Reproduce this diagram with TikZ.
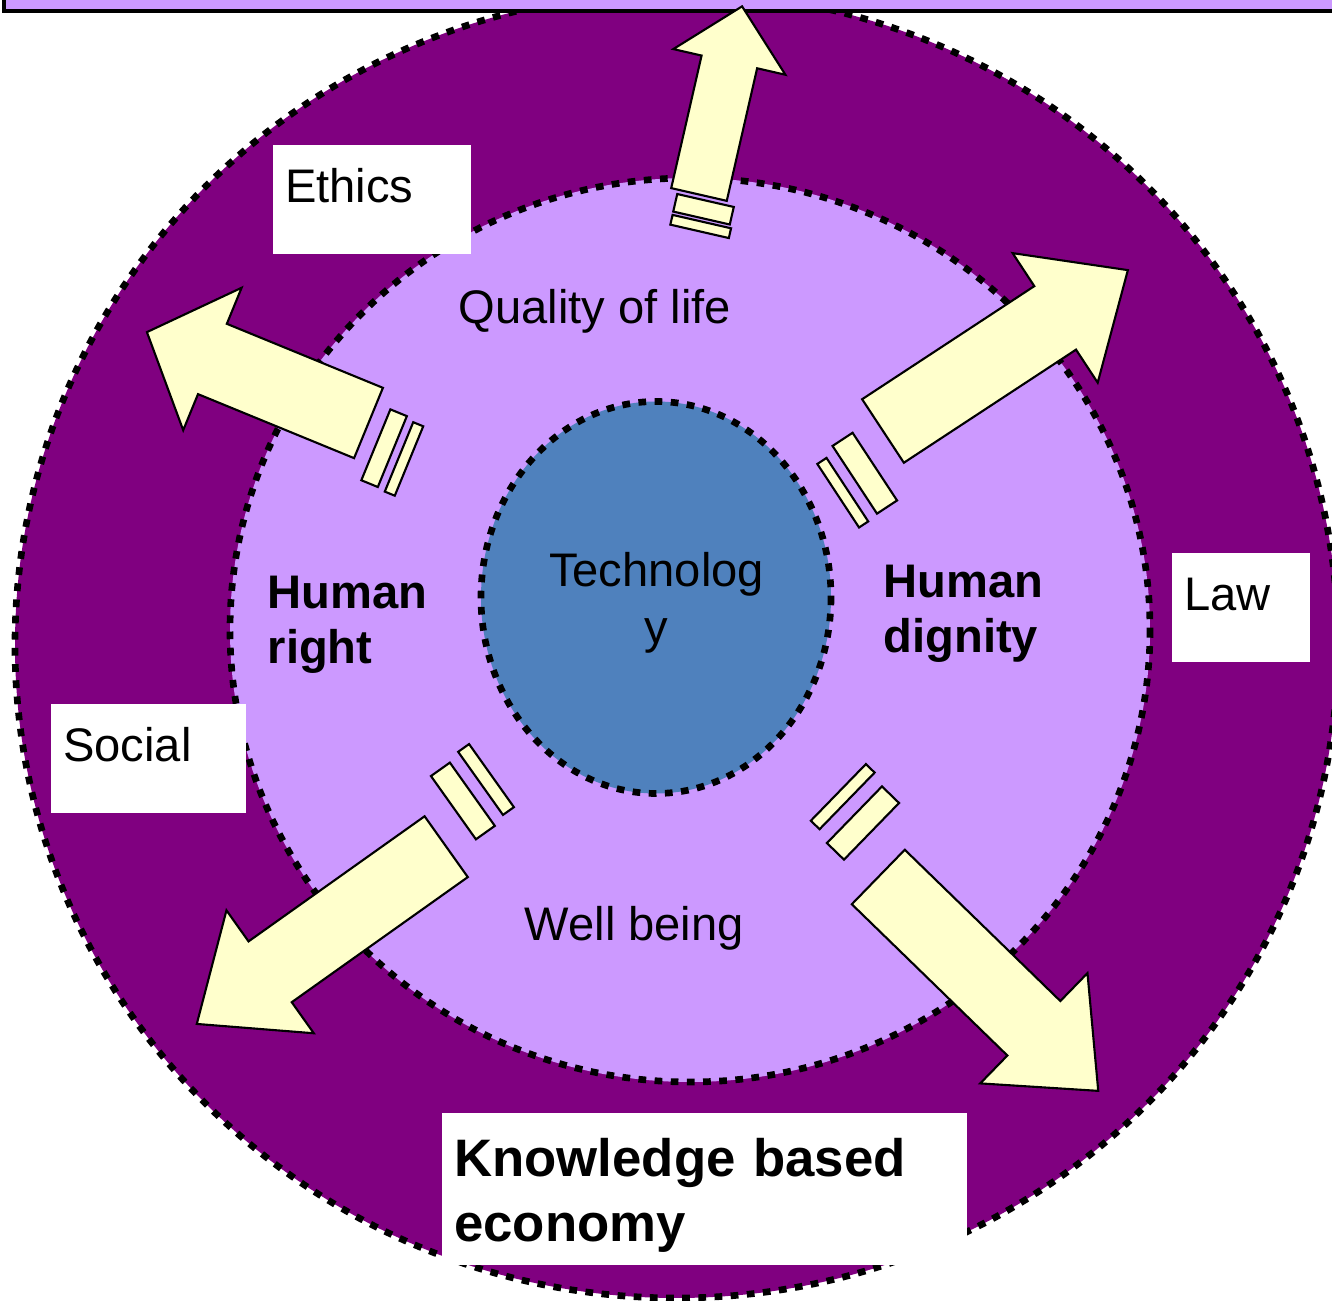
\documentclass[tikz,border=0pt]{standalone}
\usepackage{fontspec}
\setmainfont{Liberation Sans}
\usepackage{tikz}
\usetikzlibrary{positioning}

\definecolor{deeppurple}{RGB}{128,0,128}
\definecolor{lilac}{RGB}{204,153,255}
\definecolor{techblue}{RGB}{79,129,189}
\definecolor{cream}{RGB}{255,255,204}

\tikzset{
    ring/.style={line width=1.9pt, dash pattern=on 2.2pt off 2.4pt},
    arrowbody/.style={draw=black, fill=cream, line width=0.6pt},
    ringtext/.style={inner sep=0pt, font=\fontsize{13.4}{16}\selectfont},
    boldtext/.style={inner sep=0pt, text width=4cm, align=left,
        font=\bfseries\fontsize{13.4}{15.6}\selectfont},
    tag/.style={fill=white, anchor=north west, align=left,
        inner xsep=0.125cm, inner ysep=0pt,
        text height=0.575cm, text depth=0.52cm,
        font=\fontsize{13.4}{16}\selectfont}
}

% block arrow along local x: shaft length, shaft half width, head length, head half width
\newcommand{\blockarrow}[4]{%
    \draw[arrowbody] (0,-#2) -- (#1,-#2) -- (#1,-#4) -- (#1+#3,0)
        -- (#1,#4) -- (#1,#2) -- (0,#2) -- cycle;}
% stripe behind the tail: from x, to x, centre offset, half length
\newcommand{\stripebar}[4]{%
    \draw[arrowbody] (#1,#3-#4) rectangle (#2,#3+#4);}

\begin{document}
\begin{tikzpicture}[x=0.01cm, y=-0.01cm]
    \clip (0,0) rectangle (1332,1301);

    % the three rings
    \draw[ring, fill=deeppurple] (676.5,645) ellipse [x radius=661.5, y radius=653];
    \draw[ring, fill=lilac] (690,630) ellipse [x radius=460, y radius=452];
    \draw[ring, fill=techblue] (656,597.5) ellipse [x radius=175, y radius=196];

    % bar along the top edge
    \draw[fill=lilac, line width=1pt] (4,-20) rectangle (1350,11);

    % arrows pointing out of the middle
    \begin{scope}[shift={(699,194.5)}, rotate=77.1]
        \blockarrow{136}{28.5}{57}{57.5}
        \stripebar{-22.4}{-4.4}{7.7}{29}
        \stripebar{-35.8}{-25.8}{8.8}{30}
    \end{scope}
    \begin{scope}[shift={(883,431)}, rotate=33.3]
        \blockarrow{206}{38}{87}{77.5}
        \stripebar{-50.4}{-26.4}{25.3}{40.5}
        \stripebar{-73}{-62}{29.5}{38}
    \end{scope}
    \begin{scope}[shift={(368.5,423)}, rotate=157.7]
        \blockarrow{168.7}{38}{70.8}{77}
        \stripebar{-32.9}{-15.1}{-17.4}{38.3}
        \stripebar{-51.9}{-41.1}{-19.8}{37.5}
    \end{scope}
    \begin{scope}[shift={(446.2,846.7)}, rotate=-144.6]
        \blockarrow{216}{37.3}{90}{75.4}
        \stripebar{-51.7}{-28.5}{27.6}{38.8}
        \stripebar{-78.1}{-64.7}{31.7}{38.7}
    \end{scope}
    \begin{scope}[shift={(878.3,877)}, rotate=-44.2]
        \blockarrow{217}{38}{89.8}{76.9}
        \stripebar{-60.5}{-36.7}{-28}{39.5}
        \stripebar{-87.6}{-75.4}{-32.8}{39.5}
    \end{scope}

    % texts on the rings
    \node[ringtext, text width=3cm, align=center, anchor=base,
        font=\fontsize{13.4}{16.2}\selectfont] (tech) at (656.5,587) {Technolog\\y};
    \node[ringtext, anchor=base west] (quality) at (458,324) {Quality of life};
    \node[ringtext, anchor=base west] (wellbeing) at (524,941) {Well being};
    \node[boldtext, anchor=base west] (rights) at (267,609) {Human\\right};
    \node[boldtext, anchor=base west] (dignity) at (883,598) {Human\\dignity};

    % white tags
    \node[tag, text width=1.73cm] (ethics) at (272,144) {Ethics};
    \node[tag, text width=1.13cm] (law) at (1171,552) {Law};
    \node[tag, text width=1.70cm] (social) at (50,703) {Social};
    \node[tag, text width=5cm, text height=0.64cm, text depth=0.88cm,
        font=\bfseries\fontsize{15}{18.5}\selectfont] (economy) at (441,1112)
        {Knowledge based\\economy};
\end{tikzpicture}
\end{document}
